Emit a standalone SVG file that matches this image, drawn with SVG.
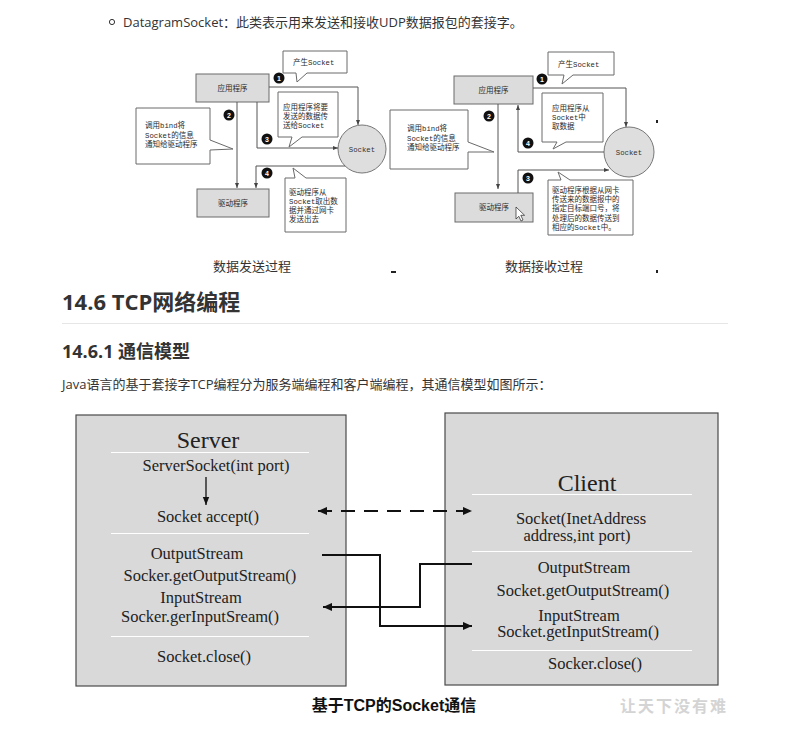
<svg xmlns="http://www.w3.org/2000/svg" width="791" height="731" viewBox="0 0 791 731">
<style>
.doc{font-family:"Open Sans","Noto Sans CJK SC",sans-serif;fill:#333}
.cj{font-family:"Noto Sans CJK SC","Liberation Sans",sans-serif;fill:#2a2a2a;font-size:7.5px}
.mono{font-family:"Liberation Mono","Noto Sans CJK SC",monospace;font-size:7.3px}
.tbox{fill:#dcdcdc;stroke:#6a6a6a;stroke-width:1}
.call{fill:#fff;stroke:#6a6a6a;stroke-width:1}
.sock{fill:#dedede;stroke:#777;stroke-width:1}
.tl{fill:none;stroke:#555;stroke-width:1}
.num{fill:#111}
.numt{font-family:"Liberation Sans",sans-serif;font-size:7px;font-weight:bold;fill:#fff;text-anchor:middle}
.big{fill:#d9d9d9;stroke:#4a4a4a;stroke-width:1.2}
.sep{stroke:#fff;stroke-width:1}
.ser{font-family:"Liberation Serif","Times New Roman",serif;fill:#222;text-anchor:middle}
.bl{fill:none;stroke:#111;stroke-width:2}
</style>
<defs>
<marker id="sa" viewBox="0 0 10 10" refX="10" refY="5" markerWidth="5" markerHeight="5" orient="auto" markerUnits="userSpaceOnUse"><path d="M0,1 L10,5 L0,9 Z" fill="#444"/></marker>
<marker id="ba" viewBox="0 0 10 10" refX="10" refY="5" markerWidth="11" markerHeight="9" orient="auto-start-reverse" markerUnits="userSpaceOnUse"><path d="M0,0.5 L10,5 L0,9.5 Z" fill="#111"/></marker>
<marker id="ma" viewBox="0 0 10 10" refX="10" refY="5" markerWidth="8" markerHeight="8" orient="auto" markerUnits="userSpaceOnUse"><path d="M0,1 L10,5 L0,9 Z" fill="#111"/></marker>
</defs>
<rect width="791" height="731" fill="#fff"/>

<!-- document text -->
<circle cx="112" cy="22" r="2.6" fill="none" stroke="#333" stroke-width="1"/>
<text class="doc" x="123" y="27" font-size="13">DatagramSocket：此类表示用来发送和接收UDP数据报包的套接字。</text>

<!-- ===== Left top diagram: 数据发送过程 ===== -->
<g id="send-diagram">
<g id="s-app"><rect class="tbox" x="196" y="74" width="73" height="28"/><text class="cj" x="232.5" y="91" text-anchor="middle">应用程序</text></g>
<g id="s-drv"><rect class="tbox" x="197" y="189" width="72" height="28"/><text class="cj" x="233" y="206" text-anchor="middle">驱动程序</text></g>
<g id="s-sock"><circle class="sock" cx="362" cy="149" r="24"/><text class="mono" x="362" y="151.5" text-anchor="middle" fill="#333">Socket</text></g>
<g id="s-c1"><path class="call" d="M283,51 H347 V73 H307 L297,82 L296,73 H283 Z"/><text class="cj" x="293" y="65">产生<tspan class="mono">Socket</tspan></text></g>
<g id="s-c3"><path class="call" d="M278,92 H338 V137 H302 L289,147 L292,137 H278 Z"/><text class="cj"><tspan x="283" y="110">应用程序将要</tspan><tspan x="283" y="119">发送的数据传</tspan><tspan x="283" y="128">送给<tspan class="mono">Socket</tspan></tspan></text></g>
<g id="s-c2"><path class="call" d="M136,108 H210 V140 L233,149 L210,150 V164 H136 Z"/><text class="cj"><tspan x="145" y="128">调用<tspan class="mono">bind</tspan>将</tspan><tspan x="145" y="138"><tspan class="mono">Socket</tspan>的信息</tspan><tspan x="145" y="147">通知给驱动程序</tspan></text></g>
<g id="s-c4"><path class="call" d="M285,178 H295 L293,168 L306,178 H346 V232 H285 Z"/><text class="cj"><tspan x="289" y="195">驱动程序从</tspan><tspan x="289" y="204"><tspan class="mono">Socket</tspan>取出数</tspan><tspan x="289" y="213">据并通过网卡</tspan><tspan x="289" y="222">发送出去</tspan></text></g>
<g id="s-connectors">
<path class="tl" d="M269,87 H358 V125" marker-end="url(#sa)"/>
<path class="tl" d="M237,102 V188" marker-end="url(#sa)"/>
<path class="tl" d="M257,102 V148 H338" marker-end="url(#sa)"/>
<path class="tl" d="M345,166 H256 V188" marker-end="url(#sa)"/>
</g>
<g id="s-nums">
<circle class="num" cx="279" cy="78" r="5.5"/><text class="numt" x="279" y="80.5">1</text>
<circle class="num" cx="229" cy="115" r="5.5"/><text class="numt" x="229" y="117.5">2</text>
<circle class="num" cx="267" cy="139" r="5.5"/><text class="numt" x="267" y="141.5">3</text>
<circle class="num" cx="267" cy="173" r="5.5"/><text class="numt" x="267" y="175.5">4</text>
</g>
</g>

<!-- ===== Right top diagram: 数据接收过程 ===== -->
<g id="recv-diagram">
<g id="r-app"><rect class="tbox" x="454" y="76" width="79" height="28"/><text class="cj" x="493.5" y="93" text-anchor="middle">应用程序</text></g>
<g id="r-drv"><rect class="tbox" x="455" y="193" width="78" height="29"/><text class="cj" x="494" y="210" text-anchor="middle">驱动程序</text>
<path d="M516,207 V219 L518.8,216.3 L521,221 L523,220 L520.8,215.3 L524.6,215.3 Z" fill="#fff" stroke="#222" stroke-width="0.7"/></g>
<g id="r-sock"><circle class="sock" cx="629" cy="152" r="25"/><text class="mono" x="629" y="154.5" text-anchor="middle" fill="#333">Socket</text></g>
<g id="r-c1"><path class="call" d="M548,52 H614 V75 H573 L562,84 L564,75 H548 Z"/><text class="cj" x="558" y="67">产生<tspan class="mono">Socket</tspan></text></g>
<g id="r-c4"><path class="call" d="M542,93 H603 V142 H566 L553,149 L557,142 H542 Z"/><text class="cj"><tspan x="552" y="111">应用程序从</tspan><tspan x="552" y="120"><tspan class="mono">Socket</tspan>中</tspan><tspan x="552" y="129">取数据</tspan></text></g>
<g id="r-c2"><path class="call" d="M390,110 H468 V142 L494,152 L468,152 V169 H390 Z"/><text class="cj"><tspan x="407" y="131">调用<tspan class="mono">bind</tspan>将</tspan><tspan x="407" y="141"><tspan class="mono">Socket</tspan>的信息</tspan><tspan x="407" y="150">通知给驱动程序</tspan></text></g>
<g id="r-c3"><path class="call" d="M548,180 H561 L558,172 L570,180 H633 V235 H548 Z"/><text class="cj"><tspan x="552" y="193">驱动程序根据从网卡</tspan><tspan x="552" y="202">传送来的数据报中的</tspan><tspan x="552" y="211">指定目标端口号，将</tspan><tspan x="552" y="221">处理后的数据传送到</tspan><tspan x="552" y="230">相应的<tspan class="mono">Socket</tspan>中。</tspan></text></g>
<g id="r-connectors">
<path class="tl" d="M533,88 H626 V127" marker-end="url(#sa)"/>
<path class="tl" d="M498,104 V189" marker-end="url(#sa)"/>
<path class="tl" d="M604,152 H518 V105" marker-end="url(#sa)"/>
<path class="tl" d="M518,193 V170 H609" marker-end="url(#sa)"/>
</g>
<g id="r-nums">
<circle class="num" cx="542" cy="79" r="5.5"/><text class="numt" x="542" y="81.5">1</text>
<circle class="num" cx="489" cy="116" r="5.5"/><text class="numt" x="489" y="118.5">2</text>
<circle class="num" cx="528" cy="143" r="5.5"/><text class="numt" x="528" y="145.5">4</text>
<circle class="num" cx="528" cy="178" r="5.5"/><text class="numt" x="528" y="180.5">3</text>
</g>
<rect x="656" y="120" width="2" height="3" fill="#222"/>
<rect x="656" y="270" width="2" height="3" fill="#222"/>
</g>
<rect x="391" y="271" width="5" height="2" fill="#222"/>

<text class="doc" x="252" y="271" font-size="13" text-anchor="middle">数据发送过程</text>
<text class="doc" x="544" y="271" font-size="13" text-anchor="middle">数据接收过程</text>

<text class="doc" x="62" y="310" font-size="22" font-weight="bold">14.6 TCP网络编程</text>
<line x1="62" y1="323.5" x2="728" y2="323.5" stroke="#e6e6e6" stroke-width="1"/>
<text class="doc" x="62" y="358" font-size="18" font-weight="bold">14.6.1 通信模型</text>
<text class="doc" x="62" y="389" font-size="13">Java语言的基于套接字TCP编程分为服务端编程和客户端编程，其通信模型如图所示：</text>

<!-- ===== TCP model ===== -->
<g id="server">
<rect class="big" x="76" y="415" width="270" height="271"/>
<text class="ser" x="208" y="448" font-size="24">Server</text>
<line class="sep" x1="111" y1="452.5" x2="309" y2="452.5"/>
<text class="ser" x="216" y="471" font-size="16.5">ServerSocket(int port)</text>
<line x1="206" y1="477" x2="206" y2="505" stroke="#111" stroke-width="1.3" marker-end="url(#ma)"/>
<text class="ser" x="208" y="522" font-size="16.5">Socket accept()</text>
<line class="sep" x1="111" y1="533.5" x2="309" y2="533.5"/>
<text class="ser" x="197" y="559" font-size="16.5">OutputStream</text>
<text class="ser" x="210" y="581" font-size="16.5">Socker.getOutputStream()</text>
<text class="ser" x="201" y="603" font-size="16.5">InputStream</text>
<text class="ser" x="200" y="622" font-size="16.5">Socker.gerInputSream()</text>
<line class="sep" x1="111" y1="636.5" x2="309" y2="636.5"/>
<text class="ser" x="204" y="662" font-size="16.5">Socket.close()</text>
</g>
<g id="client">
<rect class="big" x="445" y="413" width="273" height="272"/>
<text class="ser" x="587" y="491" font-size="24">Client</text>
<line class="sep" x1="472" y1="494.5" x2="692" y2="494.5"/>
<text class="ser" x="581" y="524" font-size="16.5">Socket(InetAddress</text>
<text class="ser" x="577" y="541" font-size="16.5">address,int port)</text>
<line class="sep" x1="472" y1="551.5" x2="692" y2="551.5"/>
<text class="ser" x="584" y="573" font-size="16.5">OutputStream</text>
<text class="ser" x="583" y="596" font-size="16.5">Socket.getOutputStream()</text>
<text class="ser" x="579" y="621" font-size="16.5">InputStream</text>
<text class="ser" x="578" y="637" font-size="16.5">Socket.getInputStream()</text>
<line class="sep" x1="472" y1="650.5" x2="692" y2="650.5"/>
<text class="ser" x="595" y="669" font-size="16.5">Socker.close()</text>
</g>
<g id="tcp-connectors">
<line class="bl" x1="318" y1="511" x2="472" y2="511" stroke-dasharray="14 9" marker-start="url(#ba)" marker-end="url(#ba)"/>
<path class="bl" d="M322,555 H380 V626 H472" marker-end="url(#ba)"/>
<path class="bl" d="M472,564 H420 V607 H323" marker-end="url(#ba)"/>
</g>
<text x="394" y="711" font-family="Liberation Sans,Noto Sans CJK SC,sans-serif" font-size="16" font-weight="bold" fill="#111" text-anchor="middle">基于TCP的Socket通信</text>
<text x="620" y="712" font-family="Noto Sans CJK SC,sans-serif" font-size="16" font-weight="bold" fill="#d4d4d4" letter-spacing="2">让天下没有难</text>
</svg>
